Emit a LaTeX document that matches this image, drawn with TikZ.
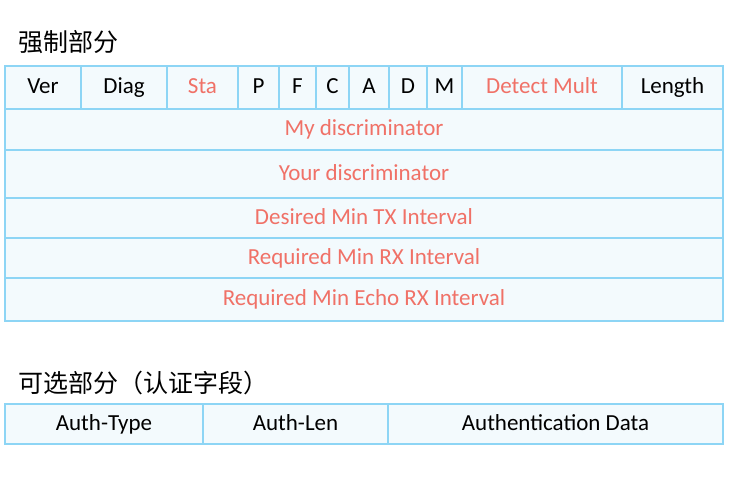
\documentclass[tikz,border=0pt]{standalone}
\usepackage{fontspec}
\setmainfont{Carlito}
\newfontfamily\cjk{Noto Sans CJK SC}
\definecolor{bordc}{HTML}{8DD5F5}
\definecolor{fillc}{HTML}{F3FAFD}
\definecolor{redt}{HTML}{F07167}
\begin{document}
\begin{tikzpicture}[x=1pt,y=-1pt,
  cell/.style={draw=bordc,fill=fillc,line width=1.5pt,inner sep=0pt,
    font=\fontsize{23}{27}\selectfont,text=black,text height=16pt,text depth=4pt},
  hot/.style={text=redt},
  ttl/.style={anchor=west,inner sep=0pt,font=\cjk\fontsize{25}{29}\selectfont}]
\useasboundingbox (0,0) rectangle (732,493);
\node[ttl] (t1) at (18,42) {强制部分};
% row 1
\node[cell,minimum width=76pt,minimum height=43pt] (ver) at (43,87.5) {Ver};
\node[cell,minimum width=86pt,minimum height=43pt] (diag) at (124,87.5) {Diag};
\node[cell,hot,minimum width=71pt,minimum height=43pt] (sta) at (202.5,87.5) {Sta};
\node[cell,minimum width=41pt,minimum height=43pt] (p) at (258.5,87.5) {P};
\node[cell,minimum width=37pt,minimum height=43pt] (f) at (297.5,87.5) {F};
\node[cell,minimum width=33pt,minimum height=43pt] (c) at (332.5,87.5) {C};
\node[cell,minimum width=40pt,minimum height=43pt] (a) at (369,87.5) {A};
\node[cell,minimum width=38pt,minimum height=43pt] (d) at (408,87.5) {D};
\node[cell,minimum width=35pt,minimum height=43pt] (m) at (444.5,87.5) {M};
\node[cell,hot,minimum width=160pt,minimum height=43pt] (dm) at (542,87.5) {Detect Mult};
\node[cell,minimum width=101pt,minimum height=43pt] (len) at (672.5,87.5) {Length};
% full rows
\node[cell,hot,minimum width=718pt,minimum height=41pt] (myd) at (364,129.5) {My discriminator};
\node[cell,hot,minimum width=718pt,minimum height=48pt] (yourd) at (364,174) {Your discriminator};
\node[cell,hot,minimum width=718pt,minimum height=40pt] (dmtx) at (364,218) {Desired Min TX Interval};
\node[cell,hot,minimum width=718pt,minimum height=40pt] (rmrx) at (364,258) {Required Min RX Interval};
\node[cell,hot,minimum width=718pt,minimum height=43pt] (rmerx) at (364,299.5) {Required Min Echo RX Interval};
% optional
\node[ttl] (t2) at (18,383) {可选部分（认证字段）};
\node[cell,minimum width=198pt,minimum height=40pt] (at) at (104,424) {Auth-Type};
\node[cell,minimum width=185pt,minimum height=40pt] (al) at (295.5,424) {Auth-Len};
\node[cell,minimum width=335pt,minimum height=40pt] (ad) at (555.5,424) {Authentication Data};
\end{tikzpicture}
\end{document}
